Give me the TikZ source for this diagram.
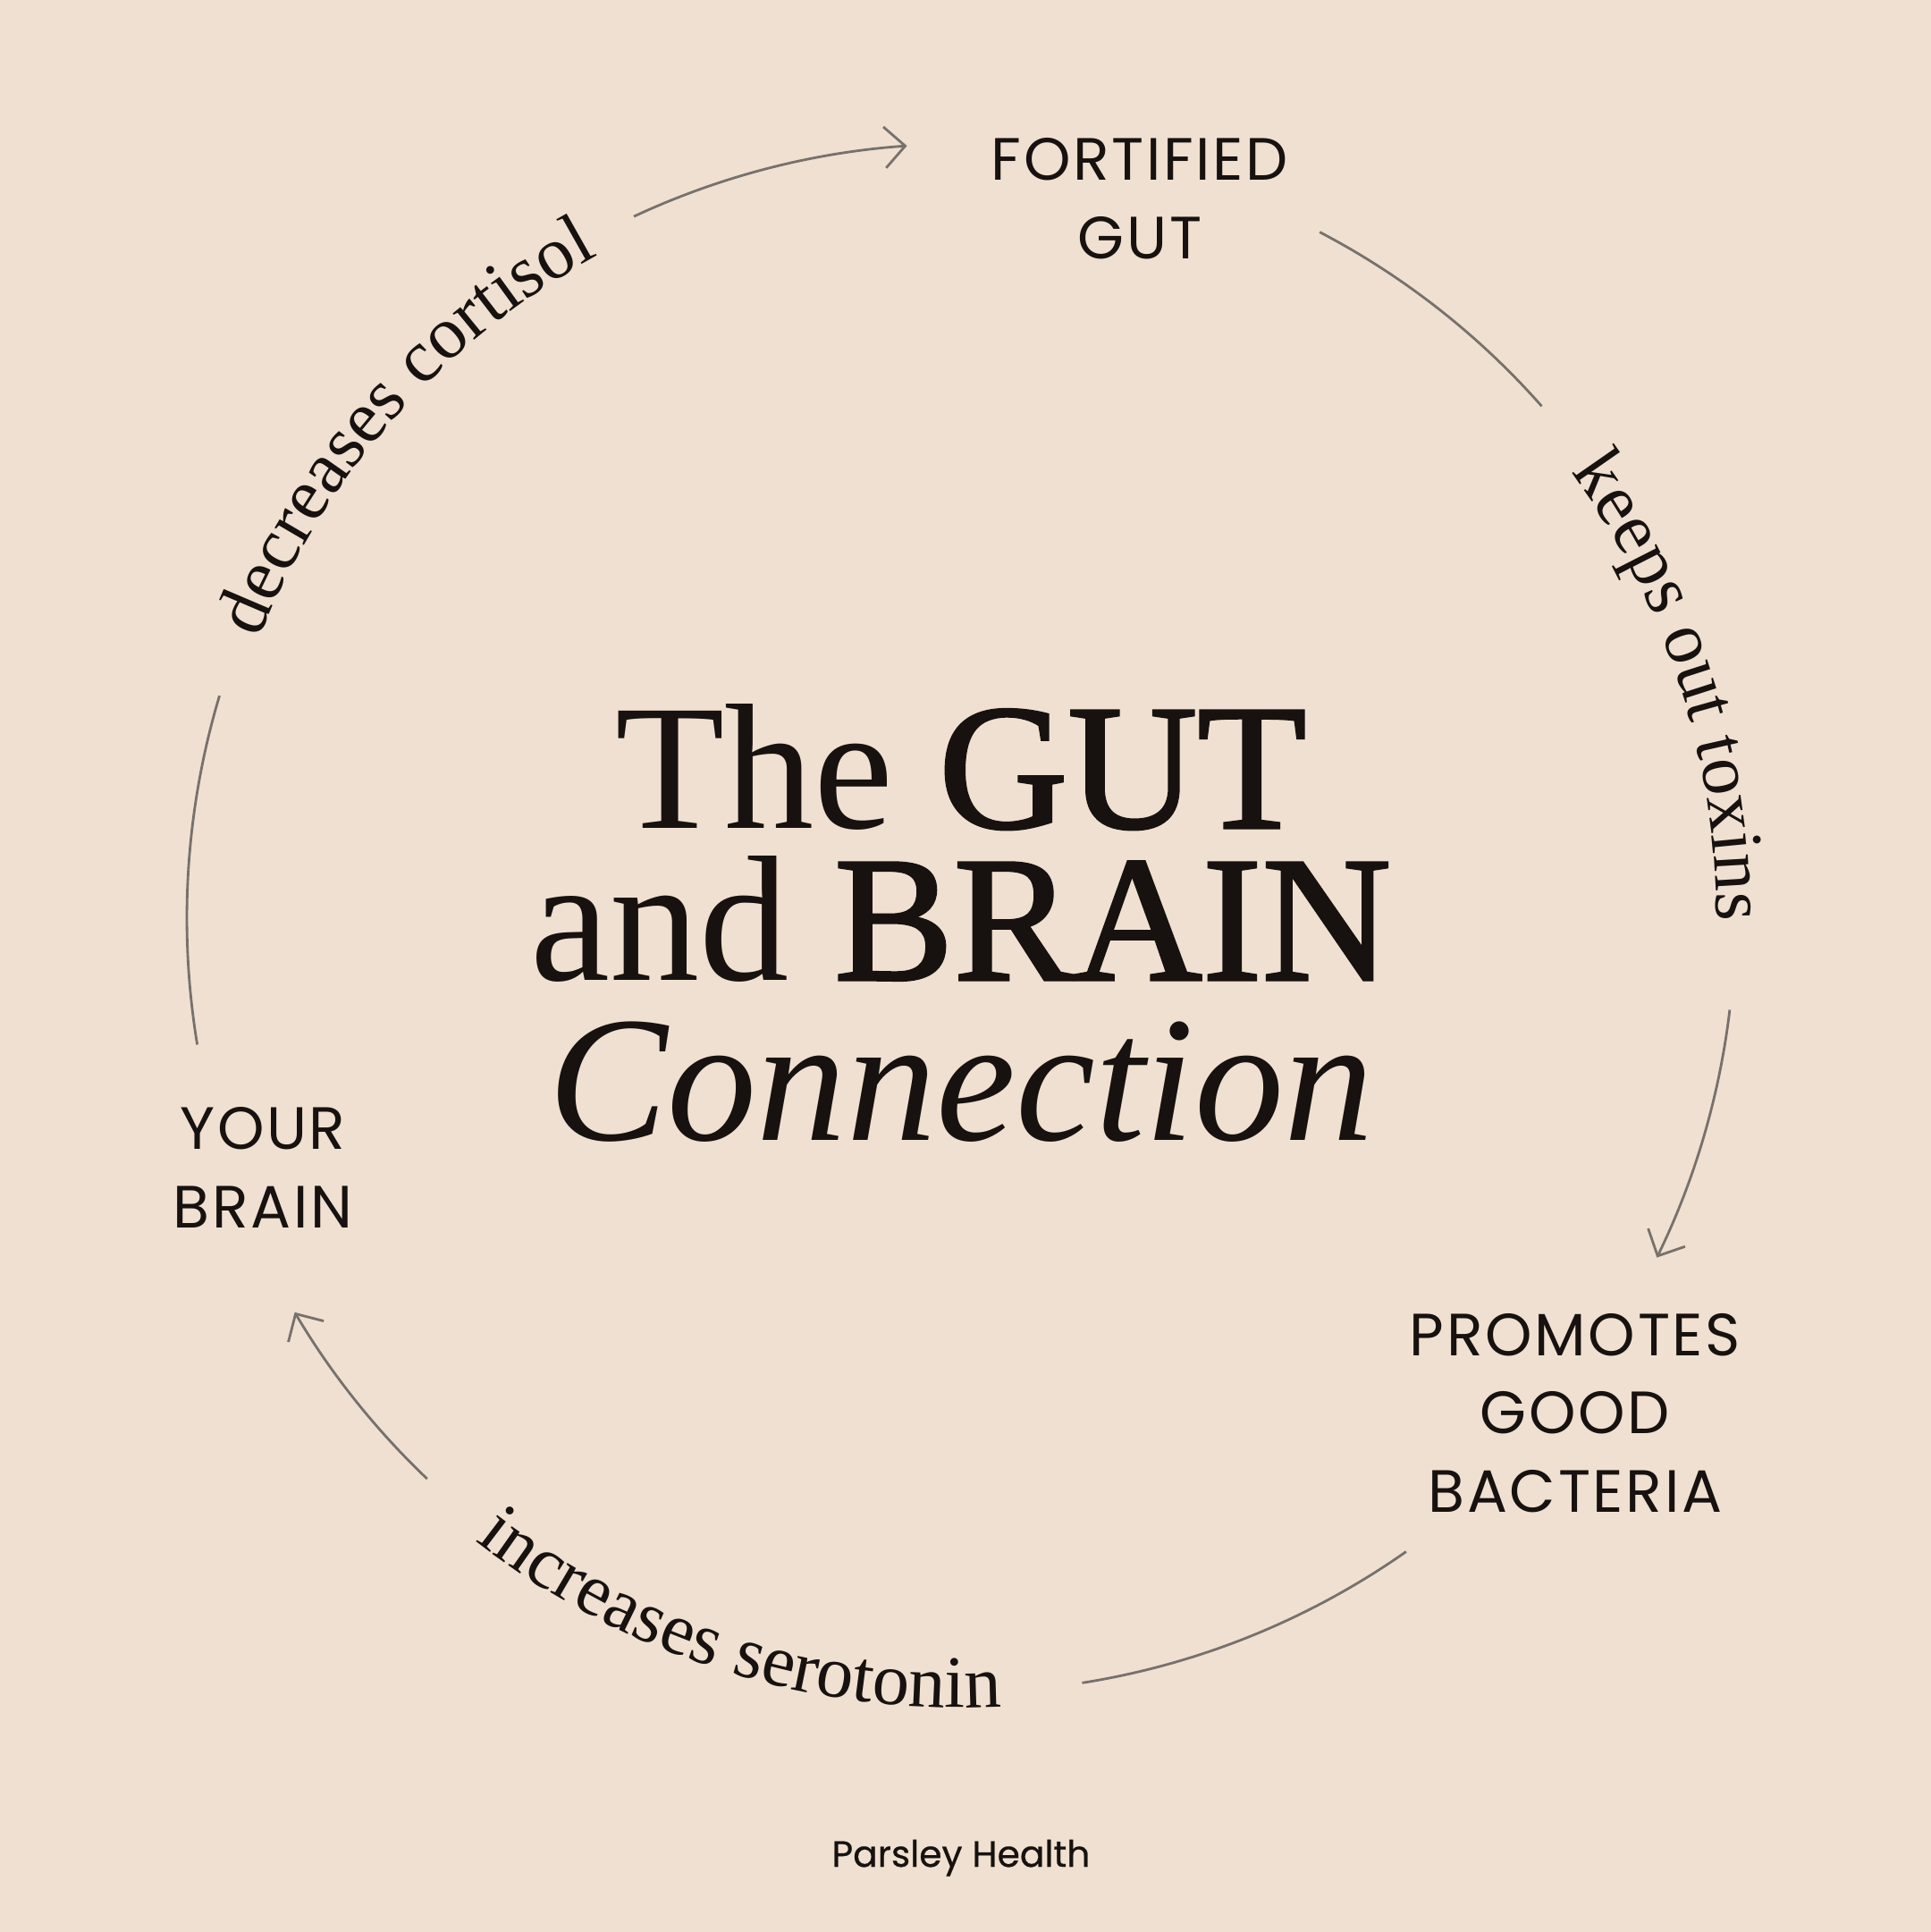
\documentclass[tikz,border=0pt]{standalone}
\usepackage{fontspec}
\setmainfont{Liberation Serif}
\newfontfamily\labelfont[LetterSpace=4]{Poppins}
\newfontfamily\brandfont[FakeBold=0.6]{Poppins}
\newfontfamily\heavyserif[FakeBold=1.5]{Liberation Serif}
\usetikzlibrary{arrows.meta,decorations.text}

\definecolor{paper}{HTML}{F0E0D1}
\definecolor{ink}{HTML}{17120F}
\definecolor{wire}{HTML}{77716C}

\newcommand\curvefont{\color{ink}\fontsize{23.5pt}{27pt}\selectfont}

\tikzset{
    stage/.style={text=ink, align=center, inner sep=0pt, font=\labelfont\fontsize{19pt}{25pt}\selectfont},
    headline/.style={text=ink, anchor=base, inner sep=0pt, font=\fontsize{57pt}{60pt}\selectfont},
    link/.style={draw=wire, line width=0.8pt},
    arrowlink/.style={link, -{Straight Barb[length=0.23cm,width=0.46cm,line width=0.8pt]}},
    bendtext/.style={decorate, decoration={text along path, text align=center, text={|\curvefont|#1}}}
}

\begin{document}
\begin{tikzpicture}
    % paper
    \fill[paper] (-10.75,-11.34) rectangle (10.85,10.27);
    \useasboundingbox (-10.75,-11.34) rectangle (10.85,10.27);

    % title
    \node[headline] (tgut) at (0,1.01) {The {\heavyserif GUT}};
    \node[headline] (tbrain) at (0,-0.69) {and {\heavyserif BRAIN}};
    \node[headline] (tconn) at (0,-2.48) {\itshape Connection};

    % stages of the cycle
    \node[stage] (gut) at (2.0,8.05) {FORTIFIED\\GUT};
    \node[stage] (bacteria) at (6.87,-5.535) {PROMOTES\\GOOD\\BACTERIA};
    \node[stage] (brain) at (-7.81,-2.79) {YOUR\\BRAIN};

    % ends of the arcs
    \coordinate (a1) at (115:8.66);
    \coordinate (a2) at (62.4:8.66);
    \coordinate (a3) at (-6.8:8.66);
    \coordinate (a4) at (-54.9:8.66);
    \coordinate (a5) at (-133.6:8.66);
    \coordinate (a6) at (163.3:8.66);

    \draw[arrowlink] (a1) arc[start angle=115, end angle=94, radius=8.66];
    \draw[link] (a2) arc[start angle=62.4, end angle=41.4, radius=8.66];
    \draw[arrowlink] (a3) arc[start angle=-6.8, end angle=-26, radius=8.66];
    \draw[link] (a4) arc[start angle=-54.9, end angle=-81, radius=8.66];
    \draw[arrowlink] (a5) arc[start angle=-133.6, end angle=-149.4, radius=8.66];
    \draw[link] (a6) arc[start angle=163.3, end angle=189.4, radius=8.66];

    % texts on the circle
    \path[bendtext={decreases cortisol}] (170:8.45) arc[start angle=170, end angle=107, radius=8.45];
    \path[bendtext={keeps out toxins}] (50:8.45) arc[start angle=50, end angle=-14, radius=8.45];
    \path[bendtext={increases serotonin}] (-145:8.83) arc[start angle=-145, end angle=-70, radius=8.83];

    \node[text=ink, anchor=base, font=\brandfont\fontsize{11.6pt}{14pt}\selectfont] (brand) at (0,-10.61) {Parsley Health};
\end{tikzpicture}
\end{document}
